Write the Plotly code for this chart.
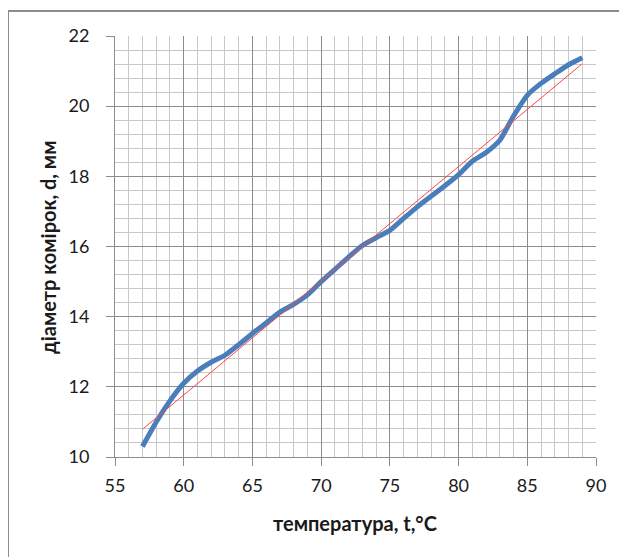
import plotly.graph_objects as go

# measured data (temperature, cell diameter)
temp = [57, 58, 59, 60, 61, 62, 63, 64, 65, 66, 67, 68, 69, 70, 71, 72, 73,
        74, 75, 76, 77, 78, 79, 80, 81, 82, 83, 84, 85, 86, 87, 88, 89]
diam = [10.3, 11.0, 11.6, 12.1, 12.45, 12.7, 12.9, 13.2, 13.52, 13.82, 14.13,
        14.35, 14.62, 15.0, 15.35, 15.7, 16.03, 16.25, 16.46, 16.8, 17.13, 17.43,
        17.73, 18.05, 18.43, 18.68, 19.03, 19.72, 20.31, 20.65, 20.92, 21.18, 21.38]

# linear trend line
trend_t = [57, 89]
trend_d = [10.79, 21.21]

x_ticks = [55, 60, 65, 70, 75, 80, 85, 90]
y_ticks = [10, 12, 14, 16, 18, 20, 22]

W, H = 627, 557
OFF = 8  # page offset of the figure in the browser
L, R, T, B = 107, 39, 28, 108
pw, ph = W - L - R, H - T - B

def px(xs):
    return (xs - OFF - L) / pw

def py(ys):
    return (H - B - (ys - OFF)) / ph

fig = go.Figure()
fig.add_trace(go.Scatter(x=temp, y=diam, mode="lines",
                         line=dict(color="#4a7ebb", width=5, shape="spline", smoothing=0.6),
                         showlegend=False))
fig.add_trace(go.Scatter(x=trend_t, y=trend_d, mode="lines",
                         line=dict(color="#ff4545", width=1),
                         showlegend=False))

grid_major = "#8c8c8c"
grid_minor = "#c8c8c8"
tickfont = dict(family="Lato", size=18, color="#1a1a1a")

fig.update_xaxes(range=[55, 90], tickvals=x_ticks, ticktext=[str(v) for v in x_ticks],
                 showgrid=True, gridcolor=grid_major, gridwidth=1,
                 minor=dict(dtick=1, tick0=55, showgrid=True, gridcolor=grid_minor, gridwidth=1),
                 showline=True, linecolor=grid_major, linewidth=1,
                 ticks="outside", ticklen=8, tickcolor=grid_major,
                 tickfont=tickfont, zeroline=False, ticklabelstandoff=4)
fig.update_yaxes(range=[10, 22], tickvals=y_ticks, ticktext=[str(v) for v in y_ticks],
                 showgrid=True, gridcolor=grid_major, gridwidth=1,
                 minor=dict(dtick=0.4, tick0=10, showgrid=True, gridcolor=grid_minor, gridwidth=1),
                 showline=True, linecolor=grid_major, linewidth=1,
                 ticks="outside", ticklen=8, tickcolor=grid_major,
                 tickfont=tickfont, zeroline=False, ticklabelstandoff=13)

fig.update_layout(
    width=W, height=H,
    margin=dict(l=L, r=R, t=T, b=B),
    paper_bgcolor="white", plot_bgcolor="white",
    font=dict(family="Lato"),
    annotations=[
        dict(text="<b>температура, t,°C</b>", xref="paper", yref="paper",
             x=px(355), y=py(523), xanchor="center", yanchor="middle", showarrow=False,
             font=dict(family="Lato", size=20, color="#1a1a1a")),
        dict(text="<b>діаметр комірок, d, мм</b>", xref="paper", yref="paper",
             x=px(48), y=py(248), xanchor="center", yanchor="middle", showarrow=False,
             textangle=-90, font=dict(family="Lato", size=20, color="#1a1a1a")),
    ],
    shapes=[
        dict(type="line", xref="paper", yref="paper", x0=px(8), x1=px(8), y0=py(11), y1=py(580),
             line=dict(color="#8c8c8c", width=2)),
        dict(type="line", xref="paper", yref="paper", x0=px(7), x1=px(650), y0=py(11), y1=py(11),
             line=dict(color="#8c8c8c", width=2)),
    ],
)

fig.write_html("out.html")
